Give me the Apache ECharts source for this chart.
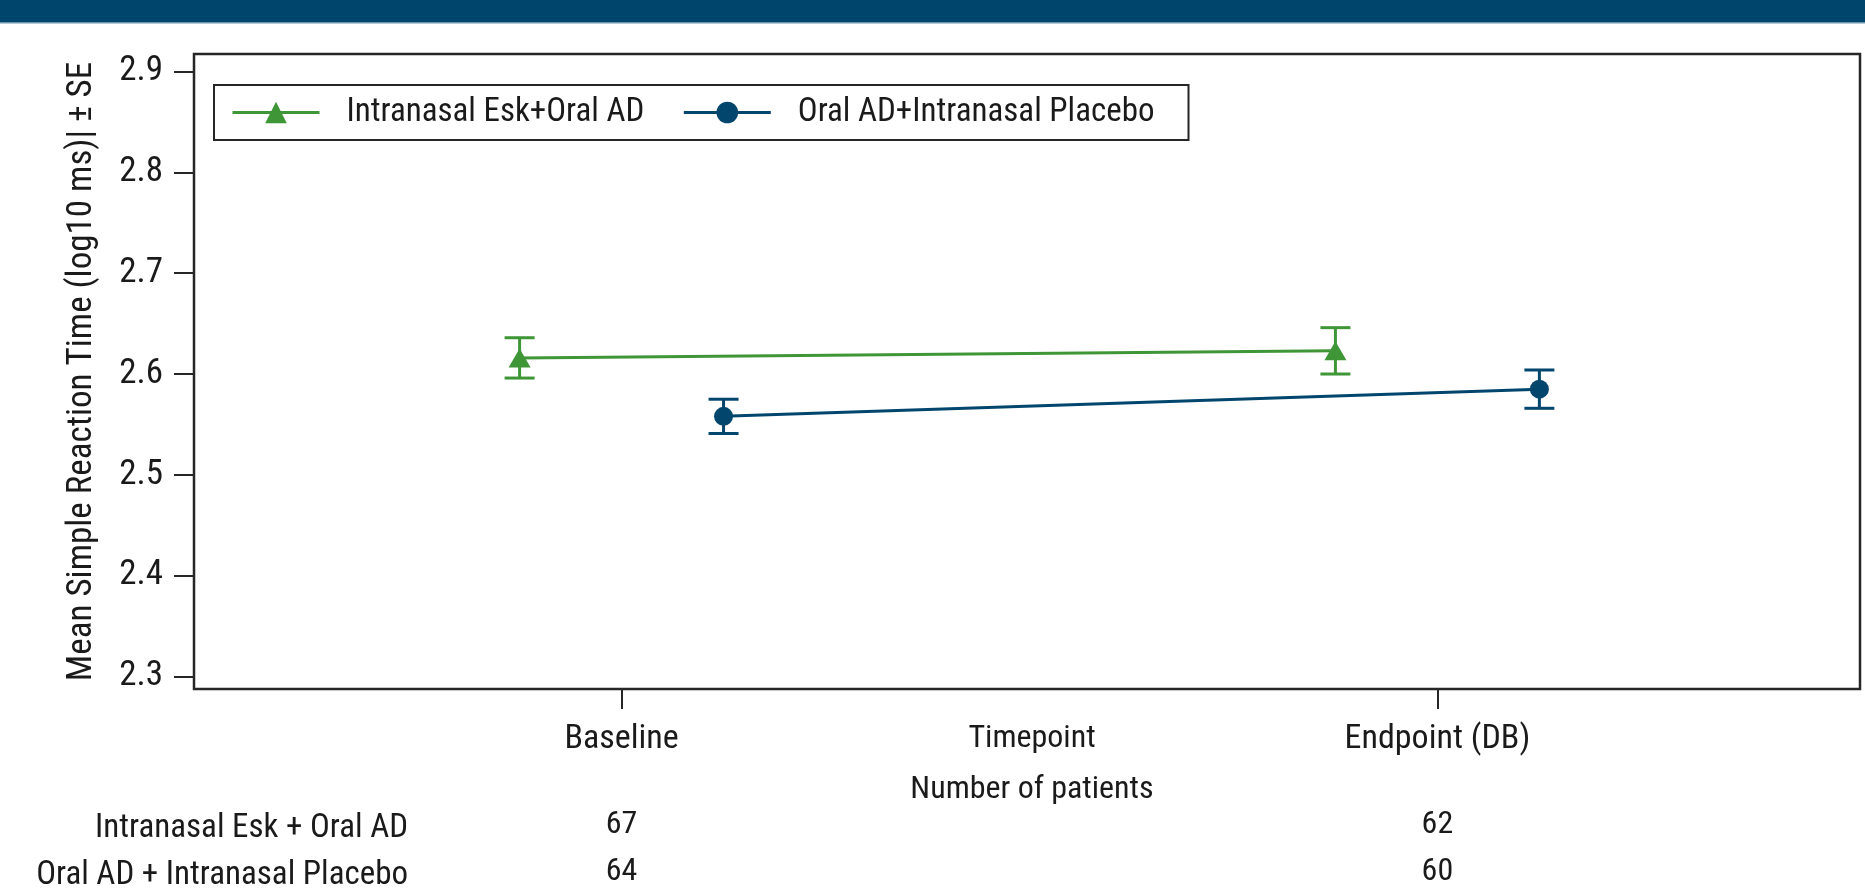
<!DOCTYPE html>
<html><head><meta charset="utf-8">
<script src="https://cdn.jsdelivr.net/npm/echarts@6/dist/echarts.min.js"></script>
<style>html,body{margin:0;padding:0;background:#fff}#c{width:1865px;height:888px}</style>
</head><body><div id="c"></div>
<script>
// ---- data ----
const categories = ['Baseline', 'Endpoint (DB)'];
const seriesNames = ['Intranasal Esk+Oral AD', 'Oral AD+Intranasal Placebo'];
const groupLabels = ['Intranasal Esk + Oral AD', 'Oral AD + Intranasal Placebo'];
const eskMean = [2.616, 2.623];
const eskSE = [0.020, 0.023];
const plcMean = [2.558, 2.585];
const plcSE = [0.017, 0.019];
const eskN = [67, 62];
const plcN = [64, 60];
const yTicks = [2.3, 2.4, 2.5, 2.6, 2.7, 2.8, 2.9];

// ---- styling ----
const FONT = "'Roboto Condensed', 'DejaVu Sans Condensed', sans-serif";
const TXT = '#1a1a1a';
const GREEN = '#3f9637';
const BLUE = '#02466e';
const catPos = categories.map((c, i) => i + 1);
const DODGE = 0.125;
const XMIN = 0.4759, XMAX = 2.518;

function pts(mean, off) { return mean.map((m, i) => [catPos[i] + off, m]); }
function errSeries(name, mean, se, off, color) {
  return {
    type: 'custom', name: name + ' SE', silent: true, z: 3,
    data: mean.map((m, i) => [catPos[i] + off, m - se[i], m + se[i]]),
    encode: { x: 0, y: [1, 2] },
    renderItem: function (params, api) {
      const x = api.value(0);
      const lo = api.coord([x, api.value(1)]);
      const hi = api.coord([x, api.value(2)]);
      const hw = 15;
      const style = { stroke: color, lineWidth: 3, fill: null };
      return { type: 'group', children: [
        { type: 'line', shape: { x1: lo[0], y1: lo[1], x2: hi[0], y2: hi[1] }, style: style },
        { type: 'line', shape: { x1: lo[0] - hw, y1: lo[1], x2: lo[0] + hw, y2: lo[1] }, style: style },
        { type: 'line', shape: { x1: hi[0] - hw, y1: hi[1], x2: hi[0] + hw, y2: hi[1] }, style: style }
      ]};
    }
  };
}
function nAxis(nArr, offset) {
  return {
    type: 'value', gridIndex: 0, position: 'bottom', offset: offset,
    min: XMIN, max: XMAX,
    axisLine: { show: false }, axisTick: { show: false }, splitLine: { show: false },
    axisLabel: { customValues: catPos, margin: 36, fontFamily: FONT, fontSize: 32, color: TXT,
      formatter: function (v) { return String(nArr[Math.round(v) - 1]); } }
  };
}

const chart = echarts.init(document.getElementById('c'));
chart.setOption({
  animation: false,
  backgroundColor: '#fff',
  textStyle: { fontFamily: FONT },
  grid: { left: 194, right: 5, top: 54, bottom: 196, show: true,
    borderColor: '#262626', borderWidth: 2.5, backgroundColor: 'transparent' },
  legend: {
    data: seriesNames, left: 214, top: 85, orient: 'horizontal',
    borderColor: '#262626', borderWidth: 2, padding: [11, 34, 11, 17],
    itemWidth: 87, itemHeight: 27, itemGap: 38,
    lineStyle: { width: 3 },
    textStyle: { fontFamily: FONT, fontSize: 33, color: TXT, padding: [0, 0, 0, 22] }
  },
  xAxis: [
    {
      type: 'value', min: XMIN, max: XMAX, position: 'bottom',
      name: 'Timepoint', nameLocation: 'middle', nameGap: 34, nameMoveOverlap: false,
      nameTextStyle: { fontFamily: FONT, fontSize: 32, color: TXT, verticalAlign: 'top', padding: [0, 0, 0, 10] },
      axisLine: { show: false },
      axisTick: { show: true, customValues: catPos, length: 20, lineStyle: { color: '#262626', width: 2 } },
      splitLine: { show: false },
      axisLabel: { customValues: catPos, margin: 33, fontFamily: FONT, fontSize: 34, color: TXT,
        formatter: function (v) { return categories[Math.round(v) - 1]; } }
    },
    nAxis(eskN, 84),
    nAxis(plcN, 131),
    {
      type: 'value', min: XMIN, max: XMAX, position: 'bottom', offset: 0,
      name: 'Number of patients', nameLocation: 'middle', nameGap: 85, nameMoveOverlap: false,
      nameTextStyle: { fontFamily: FONT, fontSize: 32, color: TXT, verticalAlign: 'top', padding: [0, 0, 0, 10] },
      axisLine: { show: false }, axisTick: { show: false }, axisLabel: { show: false }, splitLine: { show: false }
    }
  ],
  yAxis: {
    type: 'value', min: 2.2875, max: 2.9175,
    name: 'Mean Simple Reaction Time (log10 ms)| \u00b1 SE', nameLocation: 'middle', nameGap: 94, nameMoveOverlap: false,
    nameTextStyle: { fontFamily: FONT, fontSize: 35, color: TXT },
    axisLine: { show: false },
    axisTick: { show: true, customValues: yTicks, length: 20, lineStyle: { color: '#262626', width: 2 } },
    splitLine: { show: false },
    axisLabel: { customValues: yTicks, margin: 31, fontFamily: FONT, fontSize: 35, color: TXT,
      formatter: function (v) { return v.toFixed(1); } }
  },
  graphic: [
    { type: 'rect', shape: { x: 0, y: 0, width: 1865, height: 22 }, style: { fill: '#00456b' }, silent: true },
    { type: 'rect', shape: { x: 0, y: 22, width: 1865, height: 1.5 }, style: { fill: '#6c93ad' }, silent: true },
    { type: 'text', right: 1865 - 408, top: 812, style: { text: groupLabels[0], font: '33px ' + FONT, fill: TXT, textAlign: 'right' } },
    { type: 'text', right: 1865 - 408, top: 859, style: { text: groupLabels[1], font: '33px ' + FONT, fill: TXT, textAlign: 'right' } }
  ],
  series: [
    errSeries(seriesNames[0], eskMean, eskSE, -DODGE, GREEN),
    errSeries(seriesNames[1], plcMean, plcSE, DODGE, BLUE),
    { type: 'line', name: seriesNames[0], data: pts(eskMean, -DODGE), z: 4,
      symbol: 'triangle', symbolSize: [22, 19], showSymbol: true,
      lineStyle: { color: GREEN, width: 3 }, itemStyle: { color: GREEN } },
    { type: 'line', name: seriesNames[1], data: pts(plcMean, DODGE), z: 4,
      symbol: 'circle', symbolSize: 19, showSymbol: true,
      lineStyle: { color: BLUE, width: 3 }, itemStyle: { color: BLUE } }
  ]
});
</script>
</body></html>
